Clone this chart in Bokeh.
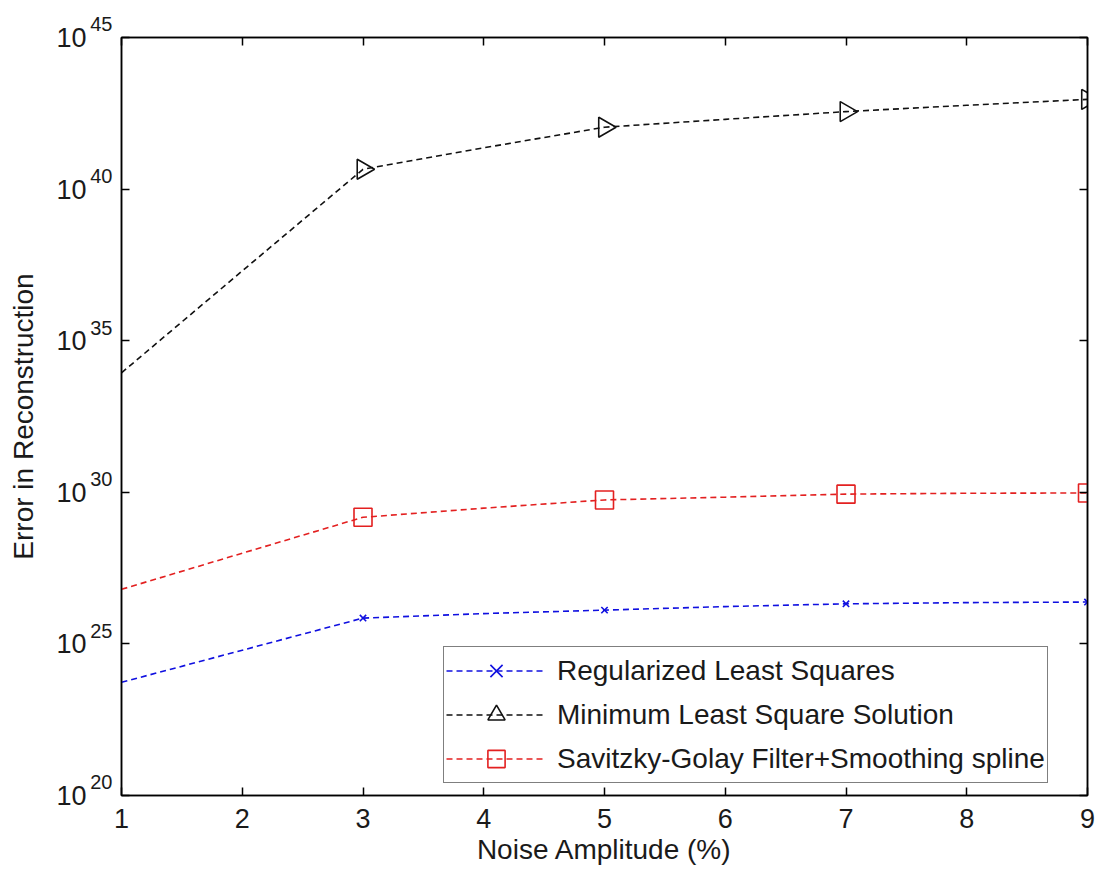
import numpy as np
from bokeh.plotting import figure
from bokeh.models import (Range1d, LinearAxis, LogAxis, FixedTicker, Legend,
                          LegendItem, CustomJSTickFormatter)
from bokeh.embed import file_html
from bokeh.resources import INLINE

# ---------------- data ----------------
noise = [1, 2, 3, 4, 5, 6, 7, 8, 9]
rls = [5.4e23, 6.2e24, 7.1e25, 1.0e26, 1.3e26, 1.7e26, 2.1e26, 2.3e26, 2.4e26]
mlss = [8.7e33, 2.0e37, 4.5e40, 2.3e41, 1.1e42, 2.0e42, 3.6e42, 5.8e42, 9.1e42]
sgf = [6.3e26, 9.8e27, 1.5e29, 3.0e29, 5.6e29, 6.9e29, 8.7e29, 9.3e29, 9.5e29]
marker_noise = [3, 5, 7, 9]
x_ticks = [1, 2, 3, 4, 5, 6, 7, 8, 9]
y_tick_exps = [20, 25, 30, 35, 40, 45]
y_tick_base = "10"
series_names = ["Regularized Least Squares", "Minimum Least Square Solution",
                "Savitzky-Golay Filter+Smoothing spline"]

FONT = "Liberation Sans"
TXT = "#1a1a1a"

p = figure(width=1097, height=875, output_backend="svg", toolbar_location=None,
           y_axis_type="log", x_range=Range1d(1, 9),
           y_range=Range1d(10.0 ** y_tick_exps[0], 10.0 ** y_tick_exps[-1]),
           min_border_left=121, min_border_right=10, min_border_top=37,
           min_border_bottom=80)
p.background_fill_color = "white"
p.border_fill_color = "white"
p.outline_line_color = "black"
p.outline_line_width = 1.5
p.grid.visible = False

y_ticks = [10.0 ** e for e in y_tick_exps]
empty = CustomJSTickFormatter(code="return ''")

# bottom axis
xa = p.xaxis[0]
xa.ticker = FixedTicker(ticks=x_ticks)
xa.major_tick_in = 8
xa.major_tick_out = 0
xa.minor_tick_line_color = None
xa.axis_line_width = 1.5
xa.major_tick_line_width = 1.5
xa.major_label_text_font = FONT
xa.major_label_text_font_size = "27px"
xa.major_label_text_color = TXT
xa.major_label_standoff = 13
xa.axis_label = "Noise Amplitude (%)"
xa.axis_label_text_font = FONT
xa.axis_label_text_font_size = "28px"
xa.axis_label_text_font_style = "normal"
xa.axis_label_text_color = TXT
xa.axis_label_standoff = 3

# left axis (inner): ticks + exponents (raised via a second, empty line)
ya = p.yaxis[0]
ya.ticker = FixedTicker(ticks=y_ticks)
ya.formatter = CustomJSTickFormatter(
    code="return String(Math.round(Math.log10(tick))) + '\\n'")
ya.major_tick_in = 8
ya.major_tick_out = 0
ya.minor_tick_line_color = None
ya.axis_line_width = 1.5
ya.major_tick_line_width = 1.5
ya.major_label_text_font = FONT
ya.major_label_text_font_size = "20px"
ya.major_label_text_color = TXT
ya.major_label_standoff = 9

# left axis (outer): the "10" bases and the axis title
ybase = LogAxis(ticker=FixedTicker(ticks=y_ticks),
                formatter=CustomJSTickFormatter(code="return '%s'" % y_tick_base),
                major_tick_in=0, major_tick_out=0, minor_tick_line_color=None,
                axis_line_color=None, major_tick_line_color=None,
                major_label_text_font=FONT, major_label_text_font_size="27px",
                major_label_text_color=TXT, major_label_standoff=1,
                axis_label="Error in Reconstruction", axis_label_text_font=FONT,
                axis_label_text_font_size="28px", axis_label_text_font_style="normal",
                axis_label_text_color=TXT, axis_label_standoff=14)
p.add_layout(ybase, "left")

# top and right axes (ticks only)
top = LinearAxis(ticker=FixedTicker(ticks=x_ticks), formatter=empty,
                 major_tick_in=8, major_tick_out=0, minor_tick_line_color=None,
                 axis_line_width=1.5, major_tick_line_width=1.5)
p.add_layout(top, "above")
right = LogAxis(ticker=FixedTicker(ticks=y_ticks), formatter=empty,
                major_tick_in=8, major_tick_out=0, minor_tick_line_color=None,
                axis_line_width=1.5, major_tick_line_width=1.5)
p.add_layout(right, "right")

colors = ["#1010e0", "#111111", "#e32020"]
series = [rls, mlss, sgf]
markers = ["x", "triangle", "square"]
sizes = [9, 20, 18]
angles = [0, -np.pi / 2, 0]

items = []
for name, vals, col, mk, sz, ang in zip(series_names, series, colors, markers, sizes, angles):
    ln = p.line(noise, vals, line_color=col, line_width=1.6, line_dash="6 4")
    my = [vals[noise.index(m)] for m in marker_noise]
    sc = p.scatter(marker_noise, my, marker=mk, size=sz, angle=ang,
                   line_color=col, fill_color=None, line_width=1.6)
    items.append(LegendItem(label=name, renderers=[ln, sc]))

legend = Legend(items=items, location=(322, 12))
legend.label_text_font = FONT
legend.label_text_font_size = "28px"
legend.label_text_color = TXT
legend.glyph_width = 100
legend.glyph_height = 43
legend.label_height = 43
legend.label_standoff = 11
legend.spacing = 1
legend.padding = 2
legend.margin = 0
legend.border_line_color = "black"
legend.border_line_width = 1.5
legend.background_fill_color = "white"
legend.background_fill_alpha = 1.0
p.add_layout(legend, "center")

open("out.html", "w").write(file_html(p, INLINE))
